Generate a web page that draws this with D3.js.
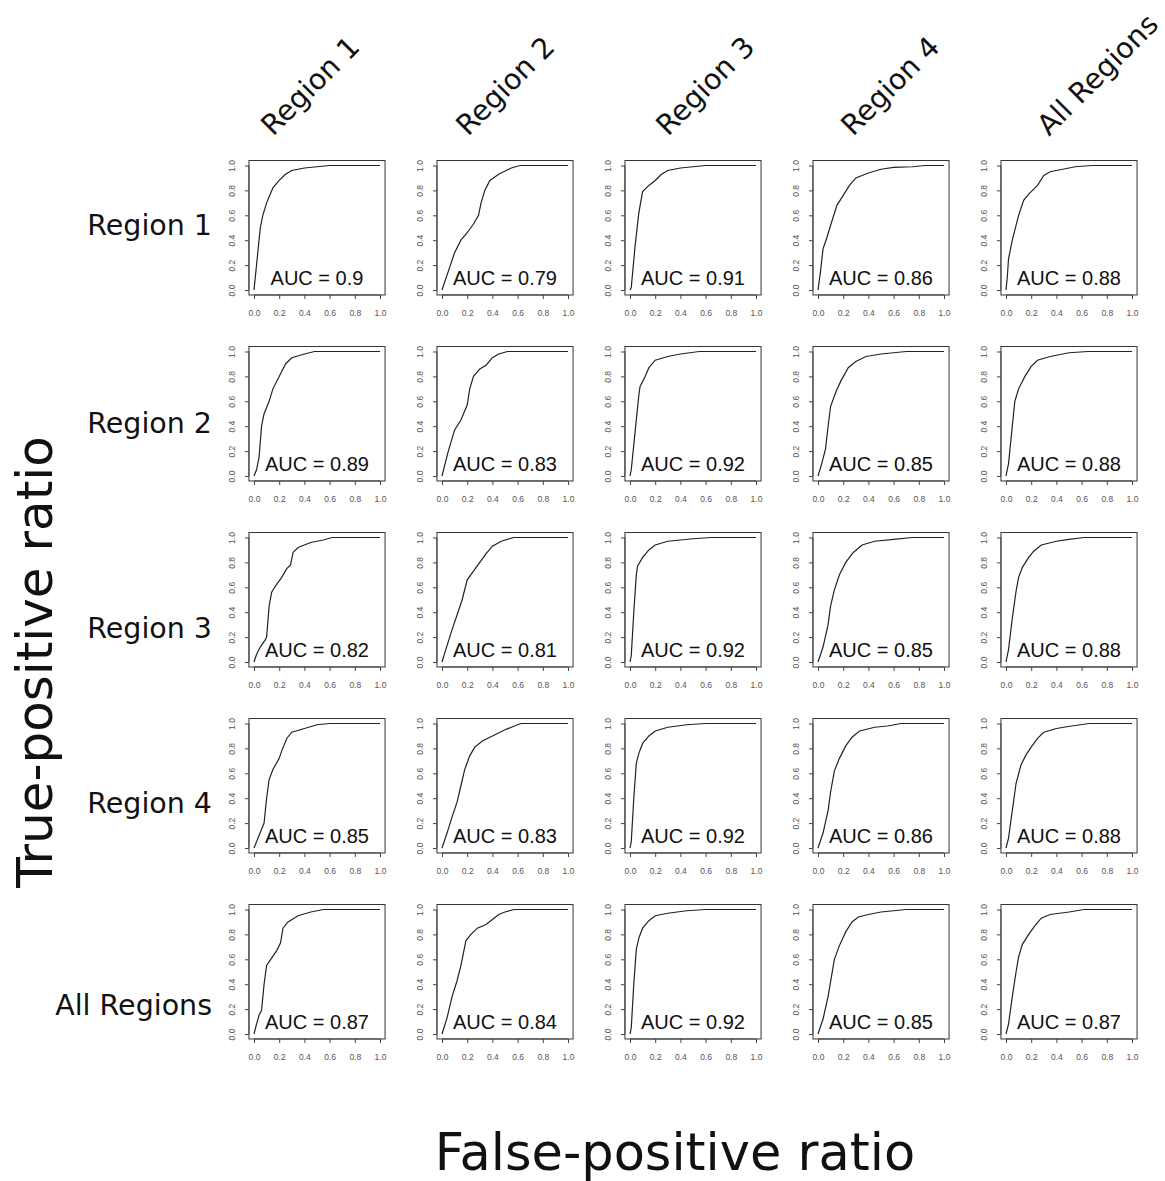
<!DOCTYPE html>
<html><head><meta charset="utf-8">
<script src="https://cdn.jsdelivr.net/npm/d3@7"></script>
<style>body{margin:0;background:#fff}</style>
</head><body><svg id="c" width="1165" height="1181"></svg>
<script>
const rowLabels = ["Region 1","Region 2","Region 3","Region 4","All Regions"];
const colLabels = ["Region 1","Region 2","Region 3","Region 4","All Regions"];
const xTitle = "False-positive ratio";
const yTitle = "True-positive ratio";
const tickValues = [0,0.2,0.4,0.6,0.8,1.0];
const aucRow1 = ["0.9","0.79","0.91","0.86","0.88"];
const aucRow2 = ["0.89","0.83","0.92","0.85","0.88"];
const aucRow3 = ["0.82","0.81","0.92","0.85","0.88"];
const aucRow4 = ["0.85","0.83","0.92","0.86","0.88"];
const aucRow5 = ["0.87","0.84","0.92","0.85","0.87"];

const rocRow1 = [
 [[0,0],[0.02,0.2],[0.05,0.5],[0.07,0.6],[0.1,0.7],[0.15,0.82],[0.2,0.88],[0.25,0.93],[0.3,0.96],[0.4,0.98],[0.5,0.99],[0.6,1],[1,1]],
 [[0,0],[0.05,0.15],[0.1,0.3],[0.15,0.4],[0.2,0.46],[0.25,0.53],[0.29,0.6],[0.31,0.7],[0.34,0.8],[0.38,0.88],[0.45,0.93],[0.55,0.98],[0.62,1],[1,1]],
 [[0,0],[0.01,0.02],[0.04,0.35],[0.07,0.62],[0.1,0.79],[0.15,0.84],[0.2,0.88],[0.25,0.93],[0.3,0.96],[0.4,0.98],[0.5,0.99],[0.6,1],[1,1]],
 [[0,0],[0.02,0.15],[0.04,0.33],[0.07,0.42],[0.1,0.52],[0.15,0.68],[0.2,0.76],[0.25,0.84],[0.3,0.9],[0.4,0.94],[0.5,0.97],[0.6,0.985],[0.75,0.99],[0.85,1],[1,1]],
 [[0,0],[0.01,0.1],[0.02,0.25],[0.05,0.4],[0.1,0.6],[0.14,0.72],[0.18,0.77],[0.25,0.84],[0.3,0.92],[0.35,0.95],[0.45,0.97],[0.55,0.99],[0.68,1],[1,1]]
];
const rocRow2 = [
 [[0,0],[0.02,0.05],[0.04,0.15],[0.06,0.4],[0.08,0.5],[0.12,0.6],[0.15,0.7],[0.2,0.8],[0.25,0.9],[0.3,0.95],[0.4,0.98],[0.48,1],[1,1]],
 [[0,0],[0.05,0.2],[0.1,0.37],[0.15,0.45],[0.2,0.57],[0.22,0.7],[0.25,0.8],[0.3,0.86],[0.35,0.89],[0.4,0.95],[0.45,0.98],[0.52,1],[1,1]],
 [[0,0],[0.01,0.05],[0.04,0.35],[0.07,0.65],[0.08,0.72],[0.12,0.8],[0.15,0.87],[0.2,0.93],[0.3,0.96],[0.4,0.98],[0.55,1],[1,1]],
 [[0,0],[0.03,0.1],[0.06,0.22],[0.08,0.4],[0.1,0.56],[0.14,0.67],[0.18,0.76],[0.24,0.87],[0.3,0.92],[0.38,0.96],[0.5,0.98],[0.7,1],[1,1]],
 [[0,0],[0.02,0.1],[0.04,0.3],[0.07,0.6],[0.1,0.7],[0.15,0.8],[0.2,0.88],[0.25,0.93],[0.35,0.96],[0.5,0.99],[0.65,1],[1,1]]
];
const rocRow3 = [
 [[0,0],[0.02,0.06],[0.05,0.12],[0.09,0.18],[0.1,0.2],[0.12,0.45],[0.14,0.56],[0.17,0.61],[0.22,0.68],[0.26,0.75],[0.29,0.78],[0.31,0.88],[0.35,0.92],[0.45,0.96],[0.55,0.98],[0.62,1],[1,1]],
 [[0,0],[0.03,0.1],[0.08,0.26],[0.12,0.38],[0.16,0.5],[0.2,0.66],[0.25,0.73],[0.3,0.8],[0.35,0.87],[0.4,0.93],[0.47,0.97],[0.57,1],[1,1]],
 [[0,0],[0.01,0.05],[0.03,0.4],[0.05,0.7],[0.06,0.77],[0.1,0.84],[0.15,0.9],[0.2,0.94],[0.3,0.97],[0.5,0.99],[0.65,1],[1,1]],
 [[0,0],[0.04,0.12],[0.08,0.3],[0.1,0.45],[0.13,0.58],[0.17,0.7],[0.22,0.8],[0.28,0.88],[0.35,0.94],[0.45,0.97],[0.6,0.985],[0.75,1],[1,1]],
 [[0,0],[0.02,0.1],[0.05,0.35],[0.08,0.57],[0.1,0.68],[0.13,0.76],[0.18,0.84],[0.22,0.89],[0.28,0.94],[0.4,0.97],[0.5,0.985],[0.62,1],[1,1]]
];
const rocRow4 = [
 [[0,0],[0.04,0.1],[0.08,0.2],[0.1,0.4],[0.12,0.55],[0.15,0.63],[0.2,0.72],[0.22,0.78],[0.26,0.88],[0.3,0.93],[0.4,0.96],[0.5,0.99],[0.6,1],[1,1]],
 [[0,0],[0.04,0.12],[0.08,0.25],[0.12,0.37],[0.15,0.5],[0.18,0.63],[0.22,0.74],[0.26,0.81],[0.32,0.86],[0.4,0.9],[0.5,0.95],[0.6,0.99],[0.63,1],[1,1]],
 [[0,0],[0.01,0.05],[0.03,0.4],[0.05,0.68],[0.07,0.76],[0.1,0.84],[0.15,0.9],[0.2,0.94],[0.3,0.97],[0.45,0.99],[0.6,1],[1,1]],
 [[0,0],[0.04,0.12],[0.08,0.3],[0.1,0.45],[0.13,0.62],[0.17,0.72],[0.22,0.82],[0.27,0.89],[0.33,0.94],[0.45,0.97],[0.55,0.98],[0.66,1],[1,1]],
 [[0,0],[0.02,0.08],[0.05,0.3],[0.08,0.52],[0.12,0.67],[0.16,0.75],[0.2,0.81],[0.25,0.88],[0.3,0.93],[0.4,0.96],[0.52,0.98],[0.66,1],[1,1]]
];
const rocRow5 = [
 [[0,0],[0.02,0.08],[0.04,0.15],[0.06,0.19],[0.08,0.4],[0.1,0.55],[0.14,0.61],[0.18,0.67],[0.21,0.73],[0.23,0.85],[0.27,0.9],[0.35,0.95],[0.45,0.98],[0.55,1],[1,1]],
 [[0,0],[0.04,0.13],[0.08,0.3],[0.12,0.43],[0.15,0.55],[0.19,0.75],[0.23,0.8],[0.28,0.85],[0.35,0.88],[0.4,0.92],[0.45,0.96],[0.5,0.98],[0.57,1],[1,1]],
 [[0,0],[0.01,0.05],[0.03,0.4],[0.05,0.68],[0.07,0.77],[0.1,0.85],[0.15,0.91],[0.2,0.95],[0.3,0.97],[0.45,0.99],[0.6,1],[1,1]],
 [[0,0],[0.04,0.12],[0.08,0.3],[0.1,0.42],[0.13,0.6],[0.17,0.71],[0.22,0.82],[0.27,0.9],[0.32,0.94],[0.4,0.96],[0.5,0.98],[0.7,1],[1,1]],
 [[0,0],[0.02,0.08],[0.05,0.3],[0.08,0.5],[0.1,0.62],[0.13,0.72],[0.18,0.8],[0.23,0.87],[0.28,0.93],[0.35,0.96],[0.5,0.98],[0.62,1],[1,1]]
];

const rocRows = [rocRow1, rocRow2, rocRow3, rocRow4, rocRow5];
const aucRows = [aucRow1, aucRow2, aucRow3, aucRow4, aucRow5];

const svg = d3.select("#c");
svg.append("rect").attr("width",1165).attr("height",1181).attr("fill","#fff");

const x0 = 254, colStep = 188, unitW = 126;
const y0 = 165.5, rowStep = 186, unitH = 124.5;
const pad = 0.04;
const tickFont = "Liberation Sans, Arial, sans-serif";

const line = d3.line();

rocRows.forEach((row, ri) => {
  row.forEach((pts, ci) => {
    const left = x0 + ci*colStep, top = y0 + ri*rowStep;
    const xs = d3.scaleLinear().domain([-pad, 1+pad]).range([left - pad*unitW, left + (1+pad)*unitW]);
    const ys = d3.scaleLinear().domain([-pad, 1+pad]).range([top + (1+pad)*unitH, top - pad*unitH]);
    const g = svg.append("g");
    g.append("rect")
      .attr("x", xs(-pad)).attr("y", ys(1+pad))
      .attr("width", xs(1+pad)-xs(-pad)).attr("height", ys(-pad)-ys(1+pad))
      .attr("fill","none").attr("stroke","#333").attr("stroke-width",1);
    const xa = g.append("g").attr("transform", `translate(0,${ys(-pad)})`)
      .call(d3.axisBottom(xs).tickValues(tickValues).tickFormat(d3.format(".1f")).tickSize(4).tickPadding(11));
    xa.select(".domain").attr("stroke","#444").attr("d", `M${xs(0)},0H${xs(1)}`);
    xa.selectAll(".tick line").attr("stroke","#444");
    xa.selectAll("text").attr("font-family",tickFont).attr("font-size",8.5).attr("fill","#555");
    const ya = g.append("g").attr("transform", `translate(${xs(-pad)},0)`)
      .call(d3.axisLeft(ys).tickValues(tickValues).tickFormat(d3.format(".1f")).tickSize(4));
    ya.select(".domain").attr("stroke","#444").attr("d", `M0,${ys(0)}V${ys(1)}`);
    ya.selectAll(".tick line").attr("stroke","#444");
    ya.selectAll("text").attr("x",null).attr("dy",null)
      .attr("transform","translate(-14,0) rotate(-90)")
      .attr("text-anchor","middle")
      .attr("font-family",tickFont).attr("font-size",8.5).attr("fill","#555");
    g.append("path").attr("d", line(pts.map(p => [xs(p[0]), ys(p[1])])))
      .attr("fill","none").attr("stroke","#222").attr("stroke-width",1.2);
    g.append("text").attr("x", xs(0.5)).attr("y", ys(0.1)).attr("dy","0.36em")
      .attr("text-anchor","middle").attr("font-family",tickFont).attr("font-size",20)
      .attr("fill","#111").text("AUC = " + aucRows[ri][ci]);
  });
});

const labFont = "DejaVu Sans, Verdana, sans-serif";
const rowLabelY = [235, 433, 638, 813, 1015];
rowLabels.forEach((t,i) => {
  svg.append("text").attr("x",212).attr("y",rowLabelY[i]).attr("text-anchor","end")
    .attr("font-family",labFont).attr("font-size",28.5).attr("fill","#111").text(t);
});
const colLabelX = [273, 468, 668, 853, 1049];
colLabels.forEach((t,i) => {
  svg.append("text").attr("transform",`translate(${colLabelX[i]},137) rotate(-45)`)
    .attr("font-family",labFont).attr("font-size",28.5).attr("fill","#111").text(t);
});
svg.append("text").attr("x",675).attr("y",1170).attr("text-anchor","middle")
  .attr("font-family",labFont).attr("font-size",51).attr("fill","#111").text(xTitle);
svg.append("text").attr("transform","translate(52,662) rotate(-90)").attr("text-anchor","middle")
  .attr("font-family",labFont).attr("font-size",50).attr("fill","#111").text(yTitle);
</script></body></html>
